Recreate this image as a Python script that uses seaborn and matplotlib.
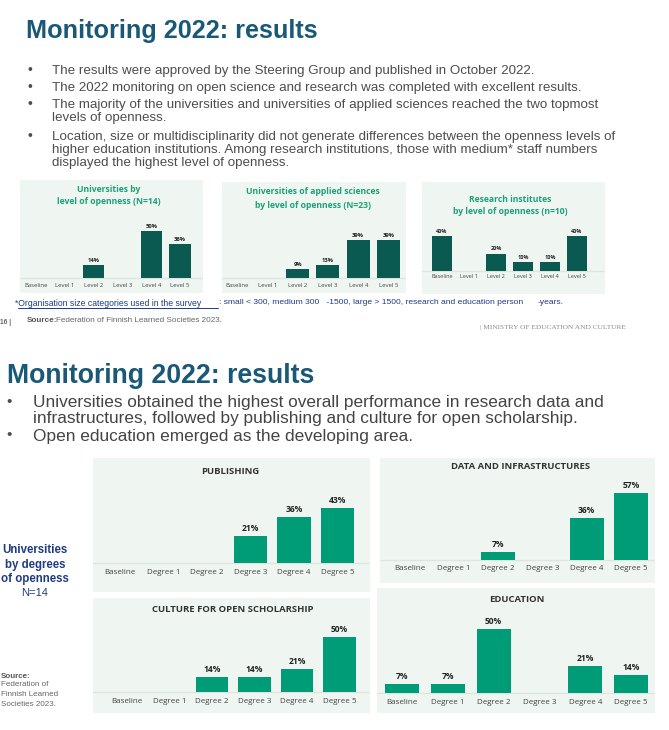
import matplotlib
matplotlib.use("Agg")
import matplotlib.pyplot as plt
import seaborn as sns

sns.set_style("white")
plt.rcParams['font.family'] = ['Open Sans', 'DejaVu Sans']

# categories
levels = ["Baseline", "Level 1", "Level 2", "Level 3", "Level 4", "Level 5"]
degrees = ["Baseline", "Degree 1", "Degree 2", "Degree 3", "Degree 4", "Degree 5"]

# slide 1: share of organisations (%) by level of openness
uni_levels = [0, 0, 14, 0, 50, 36]
uas_levels = [0, 0, 9, 13, 39, 39]
ri_levels = [40, 0, 20, 10, 10, 40]

# slide 2: universities (N=14) by degree of openness (%)
publishing = [0, 0, 0, 21, 36, 43]
data_infra = [0, 0, 7, 0, 36, 57]
culture = [0, 0, 14, 14, 21, 50]
education = [7, 7, 50, 0, 21, 14]

TITLE_C = "#1a5878"
TEXT_C = "#4d4d4d"
DARK_BAR = "#0a5a52"
GREEN_BAR = "#009c77"
GREEN_TXT = "#1fa078"
BG = "#eff6f2"
LINE_C = "#dde5e0"
BLUE = "#1d3b8a"
NARROW = ['Liberation Sans Narrow', 'Liberation Sans', 'DejaVu Sans']
ARIAL = ['Liberation Sans', 'DejaVu Sans']

W, H = 669, 730
fig = plt.figure(figsize=(W / 100, H / 100), dpi=100)


def px_axes(x0, y0, x1, y1):
    return fig.add_axes([x0 / W, 1 - y1 / H, (x1 - x0) / W, (y1 - y0) / H])


def ftext(x, y, s, **kw):
    kw.setdefault("va", "center")
    return fig.text(x / W, 1 - y / H, s, **kw)


def panel(box, base, first, step, px_per, cats, vals, bar_color, width,
          tick_size, tick_pad, val_size, val_gap):
    x0, y0, x1, y1 = box
    bg = px_axes(x0, y0, x1, y1)
    bg.set_facecolor(BG)
    bg.set_xlim(x0, x1)
    bg.set_ylim(y1, y0)
    bg.plot([x0, x1], [base, base], color=LINE_C, lw=0.9)
    bg.set_xticks([])
    bg.set_yticks([])
    for s in bg.spines.values():
        s.set_visible(False)

    ax = px_axes(first - step / 2, y0, first + 5.5 * step, base)
    ax.patch.set_alpha(0)
    sns.barplot(x=cats, y=vals, color=bar_color, width=width, saturation=1,
                linewidth=0, ax=ax)
    ymax = (base - y0) / px_per
    ax.set_xlim(-0.5, 5.5)
    ax.set_ylim(0, ymax)
    ax.set_xlabel("")
    ax.set_ylabel("")
    ax.set_yticks([])
    ax.tick_params(axis="x", length=0, pad=tick_pad, labelsize=tick_size,
                   labelcolor="#444444")
    for s in ax.spines.values():
        s.set_visible(False)
    for i, v in enumerate(vals):
        if v > 0:
            ax.text(i, v + val_gap / px_per, f"{v}%", ha="center", va="bottom",
                    fontsize=val_size, fontweight="bold", color="#222222")
    return ax


# ---------------- slide 1 ----------------
ftext(26, 38, "Monitoring 2022: results", va="baseline", fontsize=18.2,
      fontweight="bold", color=TITLE_C, family=NARROW)

bul1 = [
    (71, True, "The results were approved by the Steering Group and published in October 2022."),
    (88, True, "The 2022 monitoring on open science and research was completed with excellent results."),
    (105, True, "The majority of the universities and universities of applied sciences reached the two topmost"),
    (118, False, "levels of openness."),
    (137, True, "Location, size or multidisciplinarity did not generate differences between the openness levels of"),
    (150, False, "higher education institutions. Among research institutions, those with medium* staff numbers"),
    (163, False, "displayed the highest level of openness."),
]
for y, dot, s in bul1:
    if dot:
        ftext(27, y - 1, "\u2022", fontsize=10, color=TEXT_C, family=ARIAL)
    ftext(52, y, s, fontsize=9.6, color=TEXT_C, family=ARIAL)

panel((20, 180, 203, 293), 278, 36, 28.8, 0.94, levels, uni_levels, DARK_BAR,
      0.73, 4.3, 3.5, 4.2, 2)
panel((222, 182, 406, 293), 278, 237, 30.3, 0.974, levels, uas_levels, DARK_BAR,
      0.76, 4.3, 3.5, 4.2, 2)
panel((422, 182, 605, 294), 271, 442, 27, 0.875, levels, ri_levels, DARK_BAR,
      0.74, 4.0, 2.5, 4.0, 2)

for x, ys, lines in [(109, (190, 202), ("Universities by", "level of openness (N=14)")),
                     (313, (192, 205), ("Universities of applied sciences", "by level of openness (N=23)")),
                     (510, (200, 211), ("Research institutes", "by level of openness (n=10)"))]:
    for y, s in zip(ys, lines):
        ftext(x, y, s, ha="center", fontsize=6.2, fontweight="bold", color=GREEN_TXT)

ftext(15, 303, "*Organisation size categories used in the survey", fontsize=6.2,
      color=BLUE, family=ARIAL)
fig.add_artist(plt.Line2D([18 / W, 218 / W], [1 - 308 / H, 1 - 308 / H],
                          color=BLUE, lw=0.7))
ftext(219, 303, ": small < 300, medium 300   -1500, large > 1500, research and education person",
      fontsize=6.1, color=BLUE, family=ARIAL)
ftext(538, 303, "-years.", fontsize=6.1, color=BLUE, family=ARIAL)

ftext(0, 323, "16 |", fontsize=4.8, fontweight="bold", color="#666666", family=ARIAL)
ftext(27, 321, "Source:", fontsize=5.9, fontweight="bold", color="#555555", family=ARIAL)
ftext(56, 321, "Federation of Finnish Learned Societies 2023.", fontsize=5.9,
      color="#666666", family=ARIAL)
ftext(480, 327, "| MINISTRY OF EDUCATION AND CULTURE", fontsize=5.3, color="#8a8a8a",
      family=['Liberation Serif', 'DejaVu Serif'])

# ---------------- slide 2 ----------------
ftext(7, 383, "Monitoring 2022: results", va="baseline", fontsize=19.2,
      fontweight="bold", color=TITLE_C, family=NARROW)

bul2 = [
    (403, True, "Universities obtained the highest overall performance in research data and"),
    (419, False, "infrastructures, followed by publishing and culture for open scholarship."),
    (436, True, "Open education emerged as the developing area."),
]
for y, dot, s in bul2:
    if dot:
        ftext(6, y - 1, "\u2022", fontsize=11, color=TEXT_C, family=ARIAL)
    ftext(33, y, s, fontsize=12.4, color="#444444", family=ARIAL)

panel((93, 458, 370, 592), 563, 120, 43.5, 1.28, degrees, publishing, GREEN_BAR,
      0.76, 5.8, 4, 6.1, 3)
panel((380, 458, 655, 583), 560, 409.4, 44.3, 1.175, degrees, data_infra, GREEN_BAR,
      0.77, 5.8, 3.5, 6.1, 3)
panel((93, 598, 370, 713), 692, 127, 42.5, 1.1, degrees, culture, GREEN_BAR,
      0.76, 5.8, 4, 6.1, 3)
panel((377, 588, 655, 713), 693, 402, 45.8, 1.28, degrees, education, GREEN_BAR,
      0.74, 5.8, 4, 6.1, 3)

for x, y, s in [(230, 472, "PUBLISHING"), (521, 466, "DATA AND INFRASTRUCTURES"),
                (233, 609, "CULTURE FOR OPEN SCHOLARSHIP"), (517, 599, "EDUCATION")]:
    ftext(x, y, s, ha="center", fontsize=6.8, fontweight="bold", color="#333333")

for y, s in [(550, "Universities"), (565, "by degrees"), (579, "of openness")]:
    ftext(35, y, s, ha="center", fontsize=8.3, fontweight="bold", color="#1f3c82",
          family=ARIAL)
ftext(35, 593, "N=14", ha="center", fontsize=8, color="#1f3c82", family=ARIAL)

ftext(1, 676, "Source:", fontsize=5.8, fontweight="bold", color="#555555", family=ARIAL)
for y, s in [(685, "Federation of"), (695, "Finnish Learned"), (704, "Societies 2023.")]:
    ftext(1, y, s, fontsize=5.8, color="#666666", family=ARIAL)

fig.savefig("out.png", dpi=100)
